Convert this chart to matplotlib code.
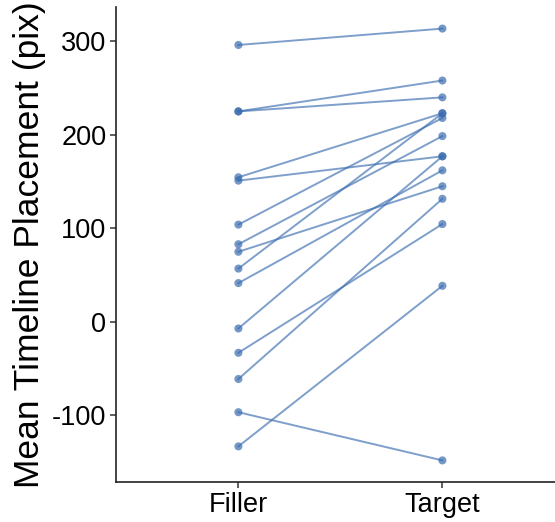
import numpy as np
import matplotlib
matplotlib.use("Agg")
import matplotlib.pyplot as plt

plt.rcParams['font.family'] = ['Liberation Sans', 'DejaVu Sans']

# condition labels
conditions = ["Filler", "Target"]

# mean placement per participant (pix)
filler = [296, 225, 225, 154.6, 151, 104, 83, 75, 57, 41.5, -7, -33, -61, -96.5, -133]
target = [313.5, 258, 240, 223, 177, 218, 198.6, 145, 223, 162, 177, 104.6, 131.6, -148, 38.6]

yticks = [-100, 0, 100, 200, 300]

fig = plt.figure(figsize=(5.55, 5.22), dpi=100)
ax = fig.add_axes([116 / 555, 40 / 522, 448.8 / 555, 475 / 522])

col = "#3a6cb0"
xs = np.array([1, 2])
for f, t in zip(filler, target):
    ax.plot(xs, [f, t], color=col, alpha=0.65, linewidth=1.4, zorder=2)
ax.scatter(np.ones(len(filler)), filler, s=34, color=col, alpha=0.7,
           edgecolors="none", zorder=3)
ax.scatter(np.full(len(target), 2), target, s=34, color=col, alpha=0.7,
           edgecolors="none", zorder=3)

ax.set_xlim(0.4, 2.6)
lo, hi = min(filler + target), max(filler + target)
pad = (hi - lo) * 0.05
ax.set_ylim(lo - pad, hi + pad)

ax.set_xticks(xs)
ax.set_xticklabels(conditions, fontsize=19.5)
ax.set_yticks(yticks)
ax.set_yticklabels([str(v) for v in yticks], fontsize=19.5)
ax.set_ylabel("Mean Timeline Placement (pix)", fontsize=25.5, labelpad=4)

for side in ["top", "right"]:
    ax.spines[side].set_visible(False)
for side in ["left", "bottom"]:
    ax.spines[side].set_linewidth(1.2)
    ax.spines[side].set_color("#222222")
ax.tick_params(axis="both", length=4, width=1.1, color="#333333",
               labelcolor="black", pad=3)

fig.savefig("out.png", dpi=100)
